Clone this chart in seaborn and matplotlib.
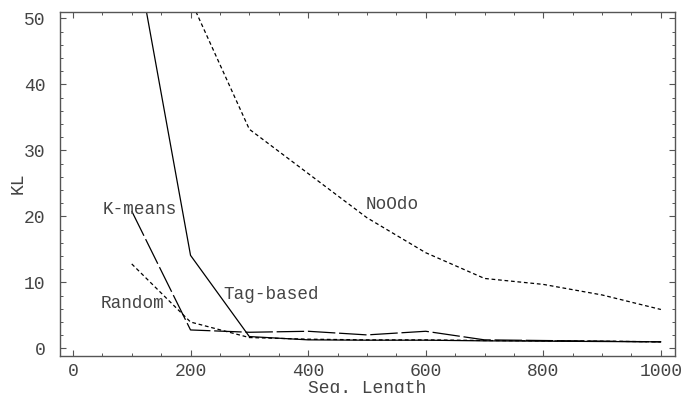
import numpy as np
import pandas as pd
import matplotlib
matplotlib.use("Agg")
import matplotlib.pyplot as plt
import seaborn as sns
from matplotlib.ticker import MultipleLocator

sns.set_style("ticks")
plt.rcParams['font.family'] = ['Liberation Mono', 'DejaVu Sans Mono']

# --- data ---
seg_len = [100, 200, 300, 400, 500, 600, 700, 800, 900, 1000]
tag_based = [63.3, 14.1, 1.8, 1.3, 1.25, 1.25, 1.15, 1.1, 1.05, 1.0]
kmeans = [20.8, 2.8, 2.45, 2.6, 2.05, 2.6, 1.3, 1.2, 1.1, 1.0]
random_kl = [12.8, 4.0, 1.65, 1.4, 1.3, 1.3, 1.2, 1.15, 1.1, 1.0]
noodo_len = [200, 300, 400, 500, 600, 700, 800, 900, 1000]
noodo = [52.8, 33.2, 26.5, 19.8, 14.5, 10.6, 9.7, 8.1, 5.9]

label_names = ["K-means", "Random", "Tag-based", "NoOdo"]
label_x = [114, 102, 338, 543]
label_y = [21.0, 6.8, 8.1, 21.8]

fig = plt.figure(figsize=(6.85, 3.93), dpi=100)
ax = fig.add_axes([0.0876, 0.0949, 0.8978, 0.8753])

lw = 0.9
sns.lineplot(x=seg_len, y=tag_based, ax=ax, color="black", lw=lw)
l_km = sns.lineplot(x=seg_len, y=kmeans, ax=ax, color="black", lw=lw).lines[-1]
l_km.set_dashes([22, 3])
l_rd = sns.lineplot(x=seg_len, y=random_kl, ax=ax, color="black", lw=lw).lines[-1]
l_rd.set_dashes([3, 2.2])
l_no = sns.lineplot(x=noodo_len, y=noodo, ax=ax, color="black", lw=lw).lines[-1]
l_no.set_dashes([3, 2.2])

txt = "#444444"
for name, tx, ty in zip(label_names, label_x, label_y):
    ax.text(tx, ty, name, ha="center", va="center", fontsize=12.7, color=txt)

ax.set_xlim(-22, 1024)
ax.set_ylim(-1.1, 51)
ax.xaxis.set_major_locator(MultipleLocator(200))
ax.xaxis.set_minor_locator(MultipleLocator(50))
ax.yaxis.set_major_locator(MultipleLocator(10))
ax.yaxis.set_minor_locator(MultipleLocator(2))

frame = "#555555"
for s in ax.spines.values():
    s.set_color(frame)
    s.set_linewidth(1.0)
ax.tick_params(which="both", direction="in", top=True, right=True, colors=frame,
               labelcolor=txt, labelsize=13)
ax.tick_params(which="major", length=4, width=0.8)
ax.tick_params(which="minor", length=2.5, width=0.7)
ax.tick_params(axis="x", which="major", pad=5)
ax.tick_params(axis="y", which="major", pad=10.5)

# the reference clips the x label at the bottom edge; keep it a bit higher
ax.set_xlabel("Seg. Length", fontsize=13, color=txt, labelpad=0.5)
ax.set_ylabel("KL", fontsize=13, color=txt, labelpad=-2)

fig.savefig("out.png", dpi=100)
